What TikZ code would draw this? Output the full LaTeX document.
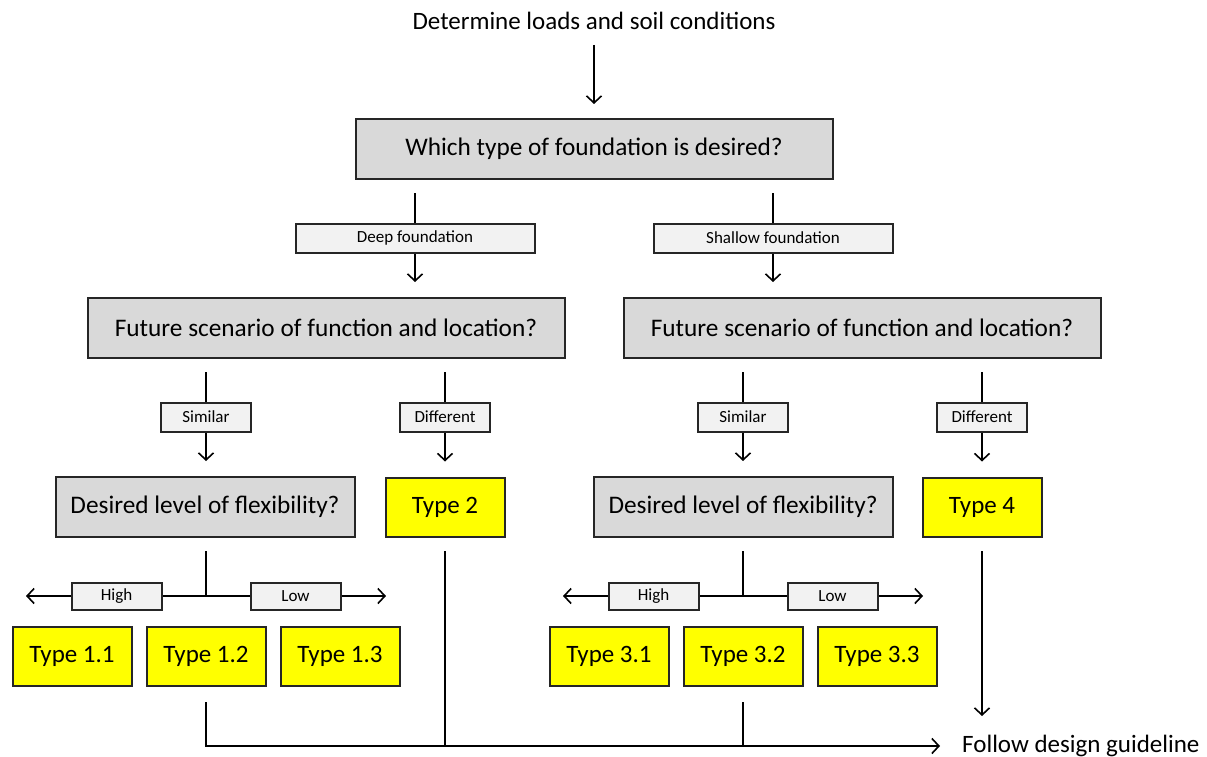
\documentclass[tikz,border=0pt]{standalone}
\usepackage{fontspec}
\setmainfont{Carlito}
\usetikzlibrary{arrows.meta,calc}
\definecolor{qgray}{HTML}{D9D9D9}
\definecolor{lgray}{HTML}{F2F2F2}
\definecolor{tyellow}{HTML}{FFFF00}
\begin{document}
\begin{tikzpicture}[x=1pt,y=-1pt,
  conn/.style={line width=1.6pt, draw=black},
  arr/.style={conn, -{Straight Barb[length=7pt,width=15pt,line width=1.6pt]}},
  qbox/.style={draw=black!85, line width=2pt, fill=qgray, minimum height=60pt,
    inner sep=0pt, font=\fontsize{25.3}{30}\selectfont},
  lbl/.style={draw=black!85, line width=2pt, fill=lgray, minimum height=29pt,
    inner sep=0pt, font=\fontsize{17}{20}\selectfont},
  tbox/.style={draw=black!85, line width=2pt, fill=tyellow, minimum width=119pt,
    minimum height=59pt, inner sep=0pt, font=\fontsize{25}{30}\selectfont},
  plain/.style={inner sep=0pt, font=\fontsize{25}{30}\selectfont}]
\useasboundingbox (0,0) rectangle (1207,757);

% questions and outcomes
\node[plain] (title) at (594,21) {Determine loads and soil conditions};
\node[qbox, minimum width=477pt] (q1) at (594,149) {Which type of foundation is desired?};
\node[lbl, minimum width=239pt] (deep) at (415,238) {Deep foundation};
\node[lbl, minimum width=239pt] (shallow) at (773,238) {Shallow foundation};
\node[qbox, minimum width=477pt] (fs1) at (326,328) {Future scenario of function and location?};
\node[qbox, minimum width=477pt] (fs2) at (862,328) {Future scenario of function and location?};
\node[lbl, minimum width=90pt] (sim1) at (206,417) {Similar};
\node[lbl, minimum width=90pt] (dif1) at (445,417) {Different};
\node[lbl, minimum width=90pt] (sim2) at (743,417) {Similar};
\node[lbl, minimum width=90pt] (dif2) at (982,417) {Different};
\node[qbox, minimum width=299pt] (flex1) at (205,507) {Desired level of flexibility?};
\node[tbox] (t2) at (445,507) {Type 2};
\node[qbox, minimum width=299pt] (flex2) at (743,507) {Desired level of flexibility?};
\node[tbox] (t4) at (982,507) {Type 4};
\node[lbl, minimum width=90pt, minimum height=27pt] (high1) at (116.5,596) {High};
\node[lbl, minimum width=90pt, minimum height=27pt] (low1) at (295.5,596) {Low};
\node[lbl, minimum width=90pt, minimum height=27pt] (high2) at (653.5,596) {High};
\node[lbl, minimum width=90pt, minimum height=27pt] (low2) at (832.5,596) {Low};
\node[tbox] (t11) at (72,656) {Type 1.1};
\node[tbox] (t12) at (206,656) {Type 1.2};
\node[tbox] (t13) at (340,656) {Type 1.3};
\node[tbox] (t31) at (609,656) {Type 3.1};
\node[tbox] (t32) at (743,656) {Type 3.2};
\node[tbox] (t33) at (877,656) {Type 3.3};
\node[plain, anchor=west] (follow) at (962,746) {Follow design guideline};

% free ends of the connectors
\coordinate (titleout) at (594,45);
\coordinate (q1outL) at (415,193);
\coordinate (q1outR) at (773,193);
\coordinate (fs1outL) at (206,372);
\coordinate (fs1outR) at (445,372);
\coordinate (fs2outL) at (743,372);
\coordinate (fs2outR) at (982,372);
\coordinate (flex1out) at (206,551);
\coordinate (flex2out) at (743,551);
\coordinate (j1) at (206,596);
\coordinate (j2) at (743,596);
\coordinate (high1end) at (26,596);
\coordinate (low1end) at (386,596);
\coordinate (high2end) at (563,596);
\coordinate (low2end) at (923,596);
\coordinate (t2out) at (445,551);
\coordinate (t4out) at (982,551);
\coordinate (t12out) at (206,702);
\coordinate (t32out) at (743,702);
\coordinate (corner) at (206,746);
\coordinate (t2bus) at (445,746);
\coordinate (t32bus) at (743,746);
\coordinate (busend) at (940,746);
\coordinate (t4end) at (982,716);

% top part
\draw[arr] (titleout) -- ([yshift=14pt]q1.north);
\draw[conn] (q1outL) -- (deep.north);
\draw[arr] (deep.south) -- ([yshift=15pt]fs1.north -| deep.south);
\draw[conn] (q1outR) -- (shallow.north);
\draw[arr] (shallow.south) -- ([yshift=15pt]fs2.north -| shallow.south);

% scenario branches
\draw[conn] (fs1outL) -- (sim1.north);
\draw[arr] (sim1.south) -- ([yshift=15pt]flex1.north -| sim1.south);
\draw[conn] (fs1outR) -- (dif1.north);
\draw[arr] (dif1.south) -- ([yshift=15pt]t2.north);
\draw[conn] (fs2outL) -- (sim2.north);
\draw[arr] (sim2.south) -- ([yshift=15pt]flex2.north);
\draw[conn] (fs2outR) -- (dif2.north);
\draw[arr] (dif2.south) -- ([yshift=15pt]t4.north);

% flexibility spread
\draw[conn] (flex1out) -- (j1);
\draw[conn] (j1) -- (high1.east);
\draw[arr] (high1.west) -- (high1end);
\draw[conn] (j1) -- (low1.west);
\draw[arr] (low1.east) -- (low1end);
\draw[conn] (flex2out) -- (j2);
\draw[conn] (j2) -- (high2.east);
\draw[arr] (high2.west) -- (high2end);
\draw[conn] (j2) -- (low2.west);
\draw[arr] (low2.east) -- (low2end);

% collecting line to the guideline
\draw[arr] (t12out) -- (corner) -- (busend);
\draw[conn] (t2out) -- (t2bus);
\draw[conn] (t32out) -- (t32bus);
\draw[arr] (t4out) -- (t4end);
\end{tikzpicture}
\end{document}
